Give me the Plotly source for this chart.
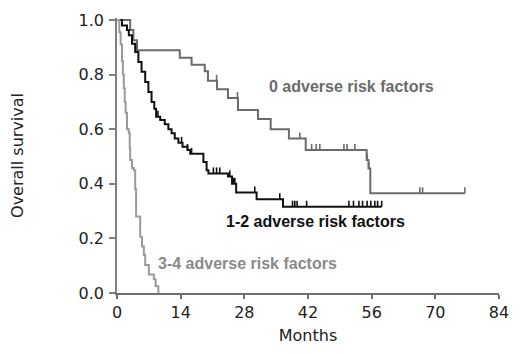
import plotly.graph_objects as go

# ---- data (months, survival level after that time) ----
risk0_t = [0, 2.9, 3.6, 4.4, 13.8, 16.4, 19.3, 20.0, 22.0, 24.4, 26.6, 31.0, 33.8, 37.8, 41.5, 54.9, 55.3, 55.7, 76.5]
risk0_s = [1.0, 0.963, 0.926, 0.889, 0.862, 0.836, 0.812, 0.777, 0.746, 0.714, 0.670, 0.637, 0.600, 0.566, 0.524, 0.487, 0.456, 0.365, 0.365]
risk0_cens = [21.9, 26.5, 40.2, 42.8, 43.8, 44.6, 49.9, 50.6, 52.3, 55.0, 55.4, 66.6, 67.2, 76.5]

risk12_t = [0, 1.1, 2.2, 2.6, 3.3, 4.0, 4.7, 5.4, 6.2, 6.9, 7.6, 8.2, 8.6, 9.5, 10.5, 11.3, 12.0, 12.7, 13.5, 14.4, 15.5, 16.1,
            19.0, 19.7, 20.1, 24.4, 25.3, 26.2, 30.7, 36.5, 58.2]
risk12_s = [1.0, 0.98, 0.963, 0.944, 0.913, 0.883, 0.846, 0.81, 0.773, 0.736, 0.70, 0.675, 0.646, 0.634, 0.618, 0.60, 0.585, 0.566,
            0.55, 0.536, 0.524, 0.51, 0.48, 0.45, 0.438, 0.427, 0.40, 0.368, 0.343, 0.316, 0.316]
risk12_cens = [9.0, 14.2, 15.5, 16.4, 21.2, 21.9, 22.6, 24.8, 25.6, 25.9, 30.3, 35.8, 38.6, 39.1, 39.6, 41.7,
               51.0, 52.0, 53.2, 54.0, 55.0, 55.8, 56.7, 57.3, 58.2]

risk34_t = [0, 0.5, 0.8, 1.1, 1.3, 1.5, 1.7, 1.9, 2.2, 2.6, 2.8, 2.9, 3.3, 3.7, 4.0, 4.2, 5.1, 5.5, 5.9, 6.2, 7.0, 8.1, 8.5, 9.1]
risk34_s = [1.0, 0.955, 0.91, 0.85, 0.80, 0.75, 0.70, 0.66, 0.60, 0.585, 0.53, 0.487, 0.458, 0.45, 0.38, 0.28, 0.206, 0.17,
            0.14, 0.103, 0.068, 0.05, 0.025, 0.0]

x_ticks = [0, 14, 28, 42, 56, 70, 84]
y_ticks = [0, 0.2, 0.4, 0.6, 0.8, 1.0]
y_ticktext = ["0.0", "0.2", "0.4", "0.6", "0.8", "1.0"]

labels = ["0 adverse risk factors", "1-2 adverse risk factors", "3-4 adverse risk factors"]
colors = ["#6b6b6b", "#111111", "#9a9a9a"]


def level_at(ts, ss, c):
    lvl = ss[0]
    for t, s in zip(ts, ss):
        if t <= c:
            lvl = s
    return lvl


def censor_segments(ts, ss, cens, h=0.022):
    xs, ys = [], []
    for c in cens:
        lv = level_at(ts, ss, c)
        xs += [c, c, None]
        ys += [lv, lv + h, None]
    return xs, ys


fig = go.Figure()
series = [(risk0_t, risk0_s, risk0_cens), (risk12_t, risk12_s, risk12_cens), (risk34_t, risk34_s, [])]
for (ts, ss, cens), col in zip(series, colors):
    fig.add_trace(go.Scatter(x=ts, y=ss, mode="lines", line=dict(color=col, width=2, shape="hv"),
                             showlegend=False, hoverinfo="skip"))
    if cens:
        cx, cy = censor_segments(ts, ss, cens)
        fig.add_trace(go.Scatter(x=cx, y=cy, mode="lines", line=dict(color=col, width=1.6),
                                 showlegend=False, hoverinfo="skip"))

label_pos = [(51.6, 0.755), (43.7, 0.261), (28.8, 0.109)]
for txt, (lx, ly), col in zip(labels, label_pos, ["#6b6b6b", "#111111", "#8a8a8a"]):
    fig.add_annotation(x=lx, y=ly, text="<b>%s</b>" % txt, showarrow=False, xanchor="center", yanchor="middle",
                       font=dict(family="Liberation Sans, Arial", size=16, color=col))

axis_font = dict(family="DejaVu Sans", size=16, color="#222222")
fig.update_layout(
    width=520, height=354,
    margin=dict(l=109, r=29, t=10, b=69, autoexpand=False),
    paper_bgcolor="white", plot_bgcolor="white",
    xaxis=dict(range=[0, 84], tickvals=x_ticks, showline=True, linecolor="#707070", linewidth=1.5,
               ticks="outside", ticklen=4, tickcolor="#707070", tickwidth=1.5, showgrid=False, zeroline=False,
               automargin=False, tickfont=axis_font, title=dict(text="Months", font=axis_font, standoff=9)),
    yaxis=dict(range=[0, 1.0073], tickvals=y_ticks, ticktext=y_ticktext, showline=True, linecolor="#808080",
               linewidth=1.5, ticks="outside", ticklen=6, tickcolor="#808080", tickwidth=1.5, showgrid=False,
               zeroline=False, automargin=False, tickfont=axis_font, ticklabelstandoff=2,
               title=dict(text="Overall survival", font=axis_font, standoff=53)),
)

fig.write_html("out.html")
